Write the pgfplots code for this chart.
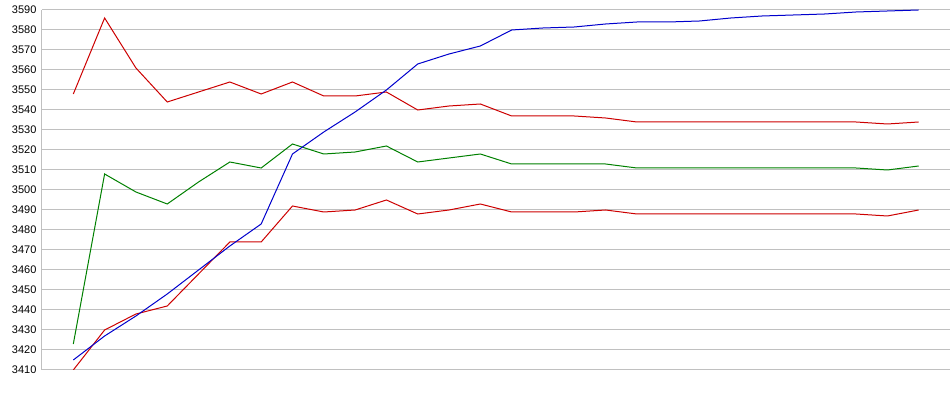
\documentclass[border=0pt]{standalone}
\usepackage{fontspec}
\setmainfont{Liberation Sans}
\usepackage{pgfplots}
\pgfplotsset{compat=1.18}
\definecolor{cred}{RGB}{204,0,0}
\definecolor{cgreen}{RGB}{0,128,0}
\definecolor{cblue}{RGB}{0,0,204}
\definecolor{cgrid}{RGB}{192,192,192}
\begin{document}
\begin{tikzpicture}
\begin{axis}[
  scale only axis,
  width=908pt, height=360pt,
  xmin=-1, xmax=28,
  ymin=3410, ymax=3590,
  xtick=\empty,
  ytick={3410,3420,...,3590},
  ymajorgrids,
  grid style={cgrid, line width=1pt},
  axis line style={cgrid, line width=1pt},
  axis x line*=bottom,
  axis y line*=left,
  x axis line style={-},
  y axis line style={-},
  major tick length=0pt,
  yticklabel style={font=\fontsize{11}{12}\selectfont, text=black, xshift=-2pt},
  /pgf/number format/.cd, 1000 sep={}, assume math mode=true,
]
\coordinate (sw) at (rel axis cs:0,0);
\coordinate (ne) at (rel axis cs:1,1);
\addplot[cred, line width=1pt] coordinates {
(0,3548) (1,3586) (2,3561) (3,3544) (4,3549) (5,3554) (6,3548) (7,3554) (8,3547) (9,3547)
(10,3549) (11,3540) (12,3542) (13,3543) (14,3537) (15,3537) (16,3537) (17,3536) (18,3534) (19,3534)
(20,3534) (21,3534) (22,3534) (23,3534) (24,3534) (25,3534) (26,3533) (27,3534)};
\addplot[cgreen, line width=1pt] coordinates {
(0,3423) (1,3508) (2,3499) (3,3493) (4,3504) (5,3514) (6,3511) (7,3523) (8,3518) (9,3519)
(10,3522) (11,3514) (12,3516) (13,3518) (14,3513) (15,3513) (16,3513) (17,3513) (18,3511) (19,3511)
(20,3511) (21,3511) (22,3511) (23,3511) (24,3511) (25,3511) (26,3510) (27,3512)};
\addplot[cred, line width=1pt] coordinates {
(0,3410) (1,3430) (2,3438) (3,3442) (4,3458) (5,3474) (6,3474) (7,3492) (8,3489) (9,3490)
(10,3495) (11,3488) (12,3490) (13,3493) (14,3489) (15,3489) (16,3489) (17,3490) (18,3488) (19,3488)
(20,3488) (21,3488) (22,3488) (23,3488) (24,3488) (25,3488) (26,3487) (27,3490)};
\addplot[cblue, line width=1pt] coordinates {
(0,3415) (1,3427) (2,3437) (3,3448) (4,3460) (5,3472) (6,3483) (7,3518) (8,3529) (9,3539)
(10,3550) (11,3563) (12,3568) (13,3572) (14,3580) (15,3581) (16,3581.5) (17,3583) (18,3584) (19,3584)
(20,3584.5) (21,3586) (22,3587) (23,3587.5) (24,3588) (25,3589) (26,3589.5) (27,3590)};
\end{axis}
\pgfresetboundingbox
\path[use as bounding box] ([xshift=-42pt,yshift=-25pt]sw) rectangle ([yshift=10pt]ne);
\end{tikzpicture}
\end{document}
